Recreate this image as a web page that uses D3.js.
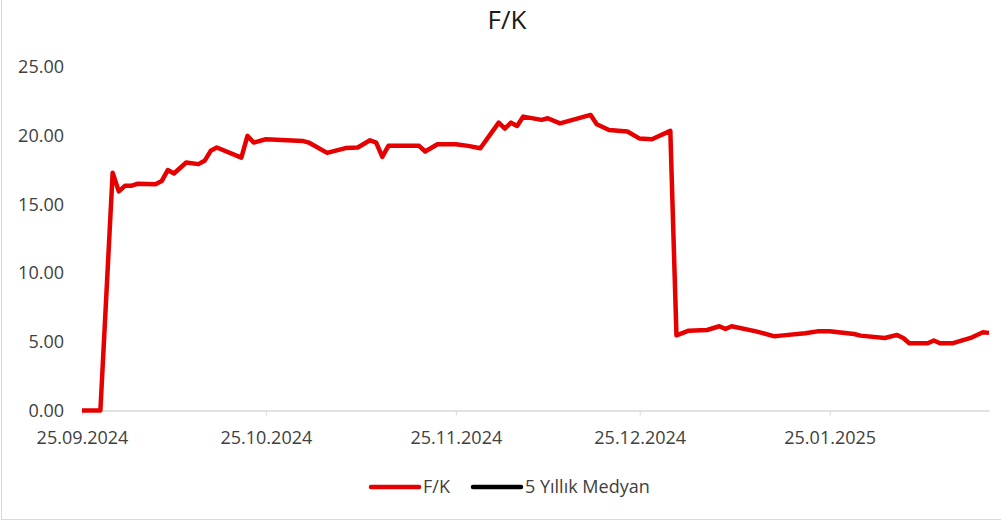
<!DOCTYPE html>
<html>
<head>
<meta charset="utf-8">
<script src="https://cdn.jsdelivr.net/npm/d3@7"></script>
<style>
  body { margin: 0; background: #fff; }
  svg { display: block; font-family: "Open Sans", sans-serif; }
</style>
</head>
<body>
<div id="chart"></div>
<script>
// Data
const dates = [
    "2024-09-25", "2024-09-28", "2024-09-30", "2024-10-01", "2024-10-02", "2024-10-03", "2024-10-04",
    "2024-10-07", "2024-10-08", "2024-10-09", "2024-10-10", "2024-10-12", "2024-10-14", "2024-10-15",
    "2024-10-16", "2024-10-17", "2024-10-21", "2024-10-22", "2024-10-23", "2024-10-25", "2024-10-31",
    "2024-11-01", "2024-11-04", "2024-11-07", "2024-11-09", "2024-11-11", "2024-11-12", "2024-11-13",
    "2024-11-14", "2024-11-19", "2024-11-20", "2024-11-22", "2024-11-25", "2024-11-27", "2024-11-29",
    "2024-12-02", "2024-12-03", "2024-12-04", "2024-12-05", "2024-12-06", "2024-12-09", "2024-12-10",
    "2024-12-12", "2024-12-17", "2024-12-18", "2024-12-20", "2024-12-23", "2024-12-25", "2024-12-27",
    "2024-12-30", "2024-12-31", "2025-01-02", "2025-01-05", "2025-01-07", "2025-01-08", "2025-01-09",
    "2025-01-13", "2025-01-16", "2025-01-17", "2025-01-21", "2025-01-23", "2025-01-25", "2025-01-29",
    "2025-01-30", "2025-02-03", "2025-02-05", "2025-02-06", "2025-02-07", "2025-02-10", "2025-02-11",
    "2025-02-12", "2025-02-14", "2025-02-17", "2025-02-19", "2025-02-20"
];
const fkValues = [
    0, 0, 17.3, 15.95, 16.35, 16.35, 16.5,
    16.47, 16.7, 17.5, 17.25, 18.05, 17.93, 18.17,
    18.9, 19.14, 18.41, 19.99, 19.5, 19.74, 19.62,
    19.5, 18.75, 19.1, 19.14, 19.67, 19.5, 18.46,
    19.26, 19.26, 18.85, 19.38, 19.38, 19.26, 19.09,
    20.95, 20.52, 20.95, 20.71, 21.39, 21.15, 21.27,
    20.9, 21.51, 20.83, 20.42, 20.3, 19.79, 19.74,
    20.35, 5.47, 5.81, 5.86, 6.13, 5.93, 6.13,
    5.76, 5.4, 5.45, 5.62, 5.76, 5.76, 5.57,
    5.45, 5.28, 5.5, 5.28, 4.89, 4.89, 5.09,
    4.89, 4.89, 5.28, 5.69, 5.65
];
const medianValues = []; // 5 Yıllık Medyan: no points visible in the chart
const seriesNames = ["F/K", "5 Yıllık Medyan"];
const seriesColors = ["#e60000", "#000000"];
const yTicks = [0, 5, 10, 15, 20, 25];
const xTickDates = ["2024-09-25", "2024-10-25", "2024-11-25", "2024-12-25", "2025-01-25"];
const xDomain = ["2024-09-25", "2025-02-20"];

const parseDate = d3.timeParse("%Y-%m-%d");
const formatDate = d3.timeFormat("%d.%m.%Y");

// Dimensions
const width = 1001;
const height = 523;
const plotLeft = 82, plotRight = 989, plotTop = 67, plotBottom = 410.5;

const x = d3.scaleTime().domain(xDomain.map(parseDate)).range([plotLeft, plotRight]);
const y = d3.scaleLinear().domain([0, 25]).range([plotBottom, plotTop]);

const svg = d3.create("svg")
    .attr("width", width)
    .attr("height", height)
    .attr("viewBox", [0, 0, width, height]);

// Frame (only left and bottom edges show)
svg.append("line")
    .attr("x1", 1.5).attr("x2", 1.5).attr("y1", 0).attr("y2", 520)
    .attr("stroke", "#d9d9d9");
svg.append("line")
    .attr("x1", 1).attr("x2", width).attr("y1", 519.5).attr("y2", 519.5)
    .attr("stroke", "#d9d9d9");

// Title
svg.append("text")
    .attr("x", 507)
    .attr("y", 29)
    .attr("text-anchor", "middle")
    .attr("font-size", 26)
    .attr("fill", "#1a1a1a")
    .text("F/K");

// Y axis: labels only
const yAxis = d3.axisLeft(y)
    .tickValues(yTicks)
    .tickFormat(d3.format(".2f"))
    .tickSize(0)
    .tickPadding(0);

svg.append("g")
    .attr("transform", "translate(64,0)")
    .call(yAxis)
    .call(g => g.select(".domain").remove())
    .call(g => g.selectAll("text")
        .attr("font-family", "Open Sans")
        .attr("font-size", 18)
        .attr("fill", "#404040"));

// X axis
const xAxis = d3.axisBottom(x)
    .tickValues(xTickDates.map(parseDate))
    .tickFormat(formatDate)
    .tickSize(5)
    .tickSizeOuter(0)
    .tickPadding(16);

svg.append("g")
    .attr("transform", `translate(0,${plotBottom})`)
    .call(xAxis)
    .call(g => g.select(".domain").attr("stroke", "#d9d9d9").attr("stroke-width", 1.5))
    .call(g => g.selectAll(".tick line").attr("stroke", "#d9d9d9"))
    .call(g => g.selectAll("text")
        .attr("font-family", "Open Sans")
        .attr("font-size", 18)
        .attr("fill", "#404040"));

// Lines
const line = d3.line()
    .x(d => x(d.date))
    .y(d => y(d.value));

const fkData = dates.map((d, i) => ({date: parseDate(d), value: fkValues[i]}));
const medianData = medianValues.map((v, i) => ({date: parseDate(dates[i]), value: v}));

[fkData, medianData].forEach((data, i) => {
    if (!data.length) return;
    svg.append("path")
        .datum(data)
        .attr("fill", "none")
        .attr("stroke", seriesColors[i])
        .attr("stroke-width", 4.5)
        .attr("stroke-linejoin", "round")
        .attr("d", line);
});

// Legend
const legendPos = [371, 473];
const legend = svg.append("g").attr("transform", "translate(0,487)");
seriesNames.forEach((name, i) => {
    const item = legend.append("g").attr("transform", `translate(${legendPos[i]},0)`);
    item.append("line")
        .attr("x1", 0).attr("x2", 48)
        .attr("stroke", seriesColors[i])
        .attr("stroke-width", 4.5)
        .attr("stroke-linecap", "round");
    item.append("text")
        .attr("x", 52)
        .attr("dy", "0.35em")
        .attr("font-size", 18)
        .attr("fill", "#404040")
        .text(name);
});

document.querySelector("#chart").appendChild(svg.node());
</script>
</body>
</html>
